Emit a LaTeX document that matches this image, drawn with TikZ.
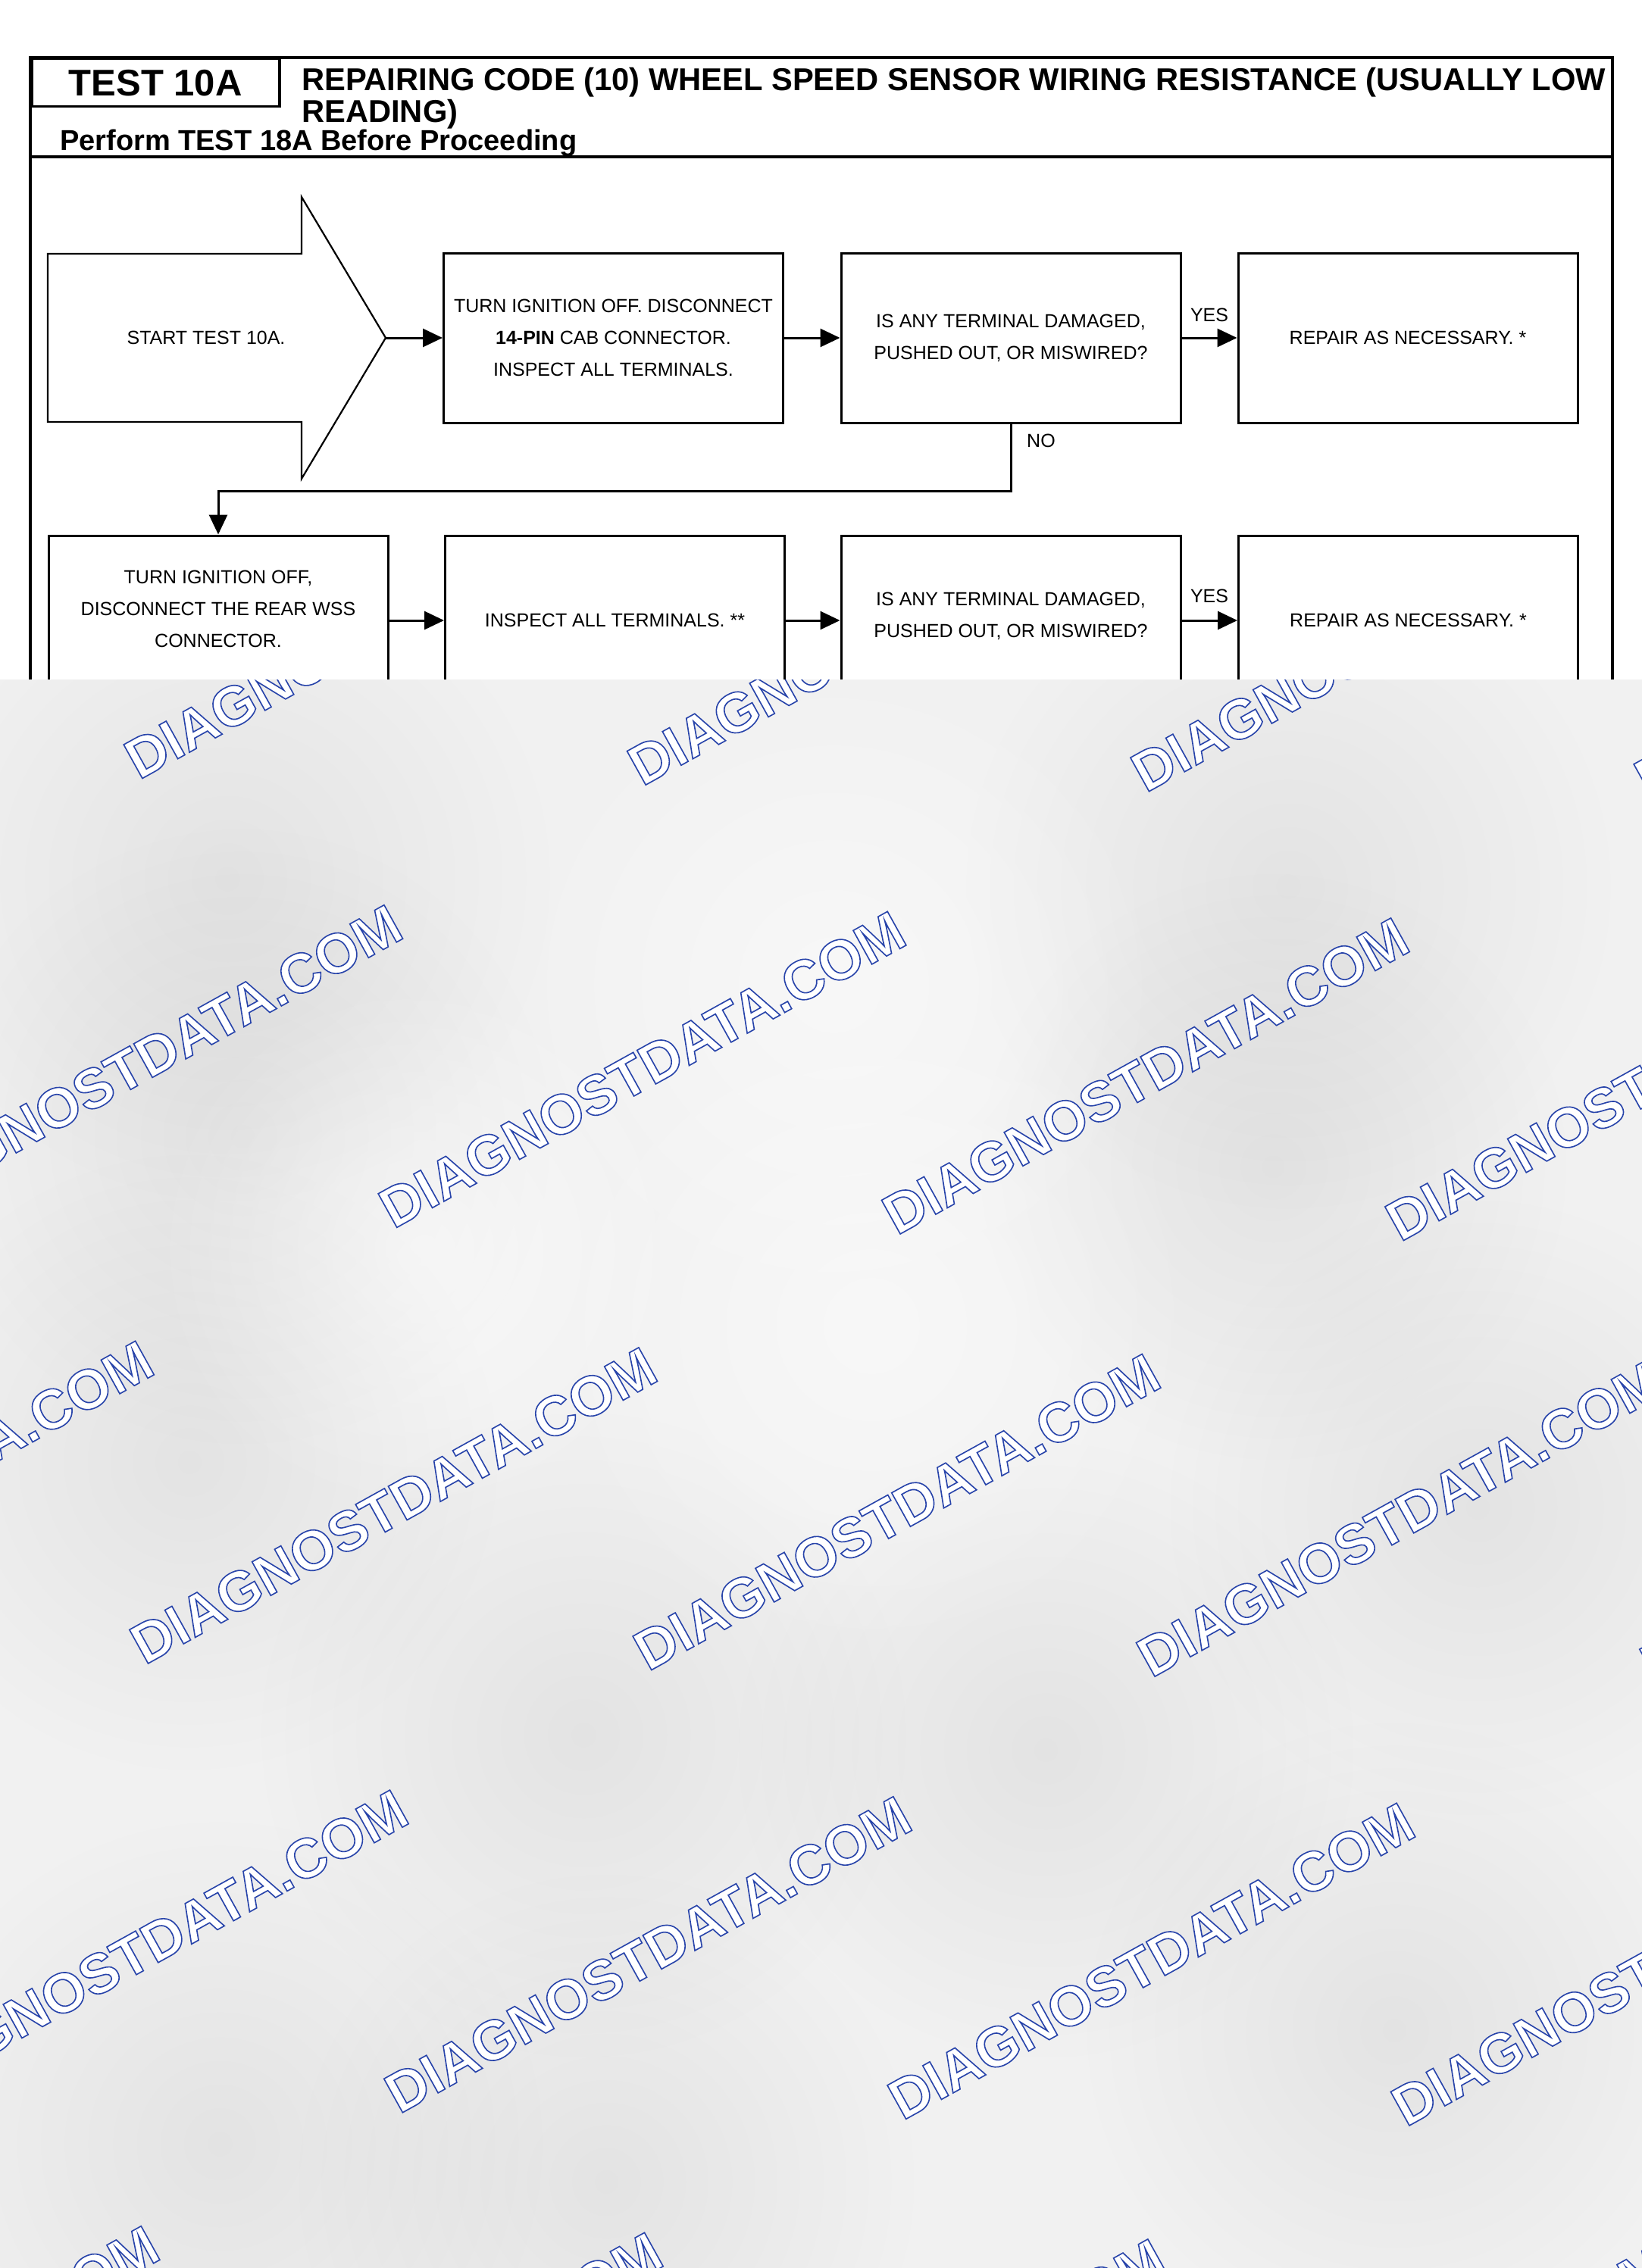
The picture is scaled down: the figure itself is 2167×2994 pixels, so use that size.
\documentclass[tikz,border=0pt]{standalone}
\usepackage{fontspec}
\setmainfont{Liberation Sans}
\newfontfamily\wmfont{Liberation Sans Bold}[FakeBold=2.2]
\usetikzlibrary{arrows.meta,calc,fadings}
\tikzfading[name=blobfade, inner color=transparent!0, outer color=transparent!100]
\definecolor{wmbg}{RGB}{241,241,241}
\definecolor{wmblue}{RGB}{40,68,170}
\newcommand\wmoutline{\special{pdf:literal direct 1 1 1 rg 0.157 0.267 0.667 RG}}
\tikzset{
  boxnode/.style={draw, line width=3pt, minimum width=448pt, minimum height=224pt,
    inner sep=0pt, align=center, font=\fontsize{25}{42}\selectfont},
  boxtxt/.style={inner sep=0pt, align=center, font=\fontsize{25}{42}\selectfont},
  arr/.style={line width=3pt, -{Triangle[length=26pt,width=24pt]}},
  lbl/.style={font=\fontsize{25}{30}\selectfont, inner sep=0pt},
  framestyle/.style={line width=3.5pt},
  wmtext/.style={font=\fontsize{74}{74}\wmfont, rotate=29, inner sep=0pt},
}
\begin{document}
\begin{tikzpicture}[x=1pt,y=-1pt]
\useasboundingbox (0,0) rectangle (2167,2994);
\fill[white] (0,0) rectangle (2167,2994);

% ---- frame and header ----
\draw[framestyle] (40,1100) -- (40,76) -- (2128,76) -- (2128,1100);
\draw[framestyle] (40,207) -- (2128,207);
\node[draw, line width=3.5pt, minimum width=327pt, minimum height=63pt, anchor=north west,
  inner sep=0pt, font=\fontsize{49}{49}\selectfont\bfseries] (tbox) at (40,76) {TEST 10A};
\node[anchor=base west, inner sep=0pt, font=\fontsize{41.7}{41.7}\selectfont\bfseries] (title1) at (398,120)
  {REPAIRING CODE (10) WHEEL SPEED SENSOR WIRING RESISTANCE (USUALLY LOW};
\node[anchor=base west, inner sep=0pt, font=\fontsize{41.7}{41.7}\selectfont\bfseries] (title2) at (398,162)
  {READING)};
\node[anchor=base west, inner sep=0pt, font=\fontsize{38}{38}\selectfont\bfseries] (perform) at (79,199)
  {Perform TEST 18A Before Proceeding};

% ---- start arrow ----
\draw[line width=2.2pt, line join=miter] (63,335) -- (398,335) -- (398,260) -- (509,446)
  -- (398,632) -- (398,557) -- (63,557) -- cycle;
\node[lbl] (start) at (272,446) {START TEST 10A.};
\coordinate (tip) at (509,446);

% ---- row 1 ----
\node[boxnode] (b1) at (809.5,446) {TURN IGNITION OFF. DISCONNECT\\\textbf{14-PIN} CAB CONNECTOR.\\INSPECT ALL TERMINALS.};
\node[boxnode] (b2) at (1334,446) {IS ANY TERMINAL DAMAGED,\\PUSHED OUT, OR MISWIRED?};
\node[boxnode] (b3) at (1858,446) {REPAIR AS NECESSARY. *};

% ---- row 2 ----
\node[boxnode] (b4) at (288,819) {};
\node[boxtxt] (b4t) at ($(b4.center)+(0,-15)$) {TURN IGNITION OFF,\\DISCONNECT THE REAR WSS\\CONNECTOR.};
\node[boxnode] (b5) at (811.5,819) {INSPECT ALL TERMINALS. **};
\node[boxnode] (b6) at (1334,819) {};
\node[boxtxt] (b6t) at ($(b6.center)+(0,-6)$) {IS ANY TERMINAL DAMAGED,\\PUSHED OUT, OR MISWIRED?};
\node[boxnode] (b7) at (1858.5,819) {REPAIR AS NECESSARY. *};

% ---- connectors ----
\draw[arr] (tip) -- (b1);
\draw[arr] (b1) -- (b2);
\draw[arr] (b2) -- node[lbl, pos=0, anchor=base west, xshift=10pt, yshift=22pt] (yes1) {YES} (b3);
\draw[arr] (b2.south) -- ++(0,89) -| (b4.north);
\node[lbl, anchor=west] (no1) at ($(b2.south)+(21,22)$) {NO};
\draw[arr] (b4) -- (b5);
\draw[arr] (b5) -- (b6);
\draw[arr] (b6) -- node[lbl, pos=0, anchor=base west, xshift=10pt, yshift=24pt] (yes2) {YES} (b7);

% ---- watermark overlay ----
\begin{scope}
\clip (0,897) rectangle (2167,2994);
\fill[wmbg] (0,897) rectangle (2167,2994);
\foreach \bx/\by/\br in {300/1160/440, 320/1500/420, 250/1930/420, 770/2290/440, 1380/2310/420,
  1700/1170/440, 1680/1540/400, 1950/1990/420, 290/2830/440, 800/2880/420, 1840/2680/420}{
  \fill[black, opacity=0.055, path fading=blobfade] (\bx,\by) circle[radius=\br pt];
}
\foreach \bx/\by/\br in {1100/1300/440, 1150/1750/440, 560/1650/360}{
  \fill[white, opacity=0.5, path fading=blobfade] (\bx,\by) circle[radius=\br pt];
}
\foreach \r in {0,...,4}{
  \foreach \c in {-1,...,3}{
    \pgfmathsetmacro{\cx}{511.6+664.3*\c-332.2*mod(\r,2)+3.8*\r}
    \pgfmathsetmacro{\cy}{819+584.2*\r+8.6*\c}
    \node[wmtext] (wm-\r-\c) at (\cx,\cy) {\wmoutline DIAGNOSTDATA.COM};
  }
}
\end{scope}
\end{tikzpicture}
\end{document}
